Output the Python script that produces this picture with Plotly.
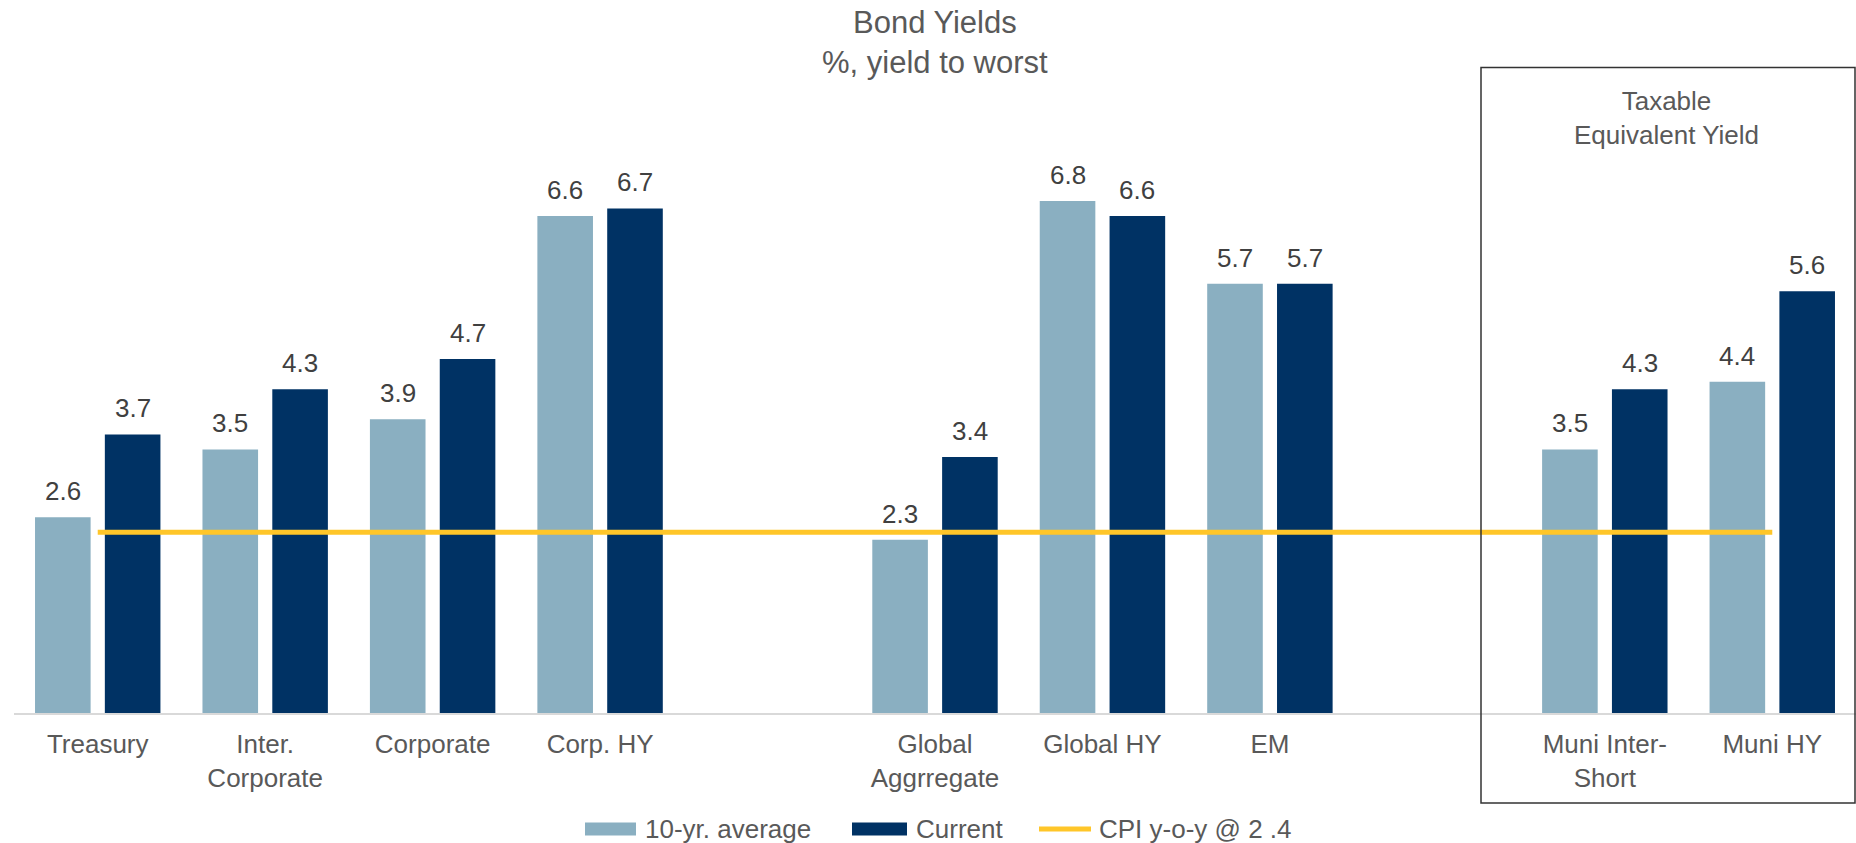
import plotly.graph_objects as go

# ---- data -------------------------------------------------------------
categories = ["Treasury", "Inter.<br>Corporate", "Corporate", "Corp. HY",
              "Global<br>Aggrregate", "Global HY", "EM",
              "Muni Inter-<br>Short", "Muni HY"]
cluster_sizes = [4, 3, 2]          # categories per cluster, one empty slot between clusters
avg_10yr = [2.6, 3.5, 3.9, 6.6, 2.3, 6.8, 5.7, 3.5, 4.4]
current = [3.7, 4.3, 4.7, 6.7, 3.4, 6.6, 5.7, 4.3, 5.6]
cpi_yoy = 2.4
series_names = ["10-yr. average", "Current", "CPI y-o-y @ 2 .4"]

# ---- styling ----------------------------------------------------------
LIGHT = "#8AAFC1"
DARK = "#003264"
GOLD = "#FFC629"
TEXT = "#595959"
LABEL = "#404040"
FONT = "Arial, Liberation Sans, sans-serif"

W, H = 1856, 843
M_L, M_R, M_T, M_B = 14, 0, 60, 130
PLOT_W = W - M_L - M_R
PLOT_H = H - M_T - M_B
PX_PER_UNIT = 75.3

# bar geometry in category-slot units
BAR_W = 0.332
BAR_SPACING = 0.085
OFFSETS = [-(BAR_W + BAR_SPACING / 2), BAR_SPACING / 2]


def px_x(p):
    return (p - M_L) / PLOT_W


def px_y(p):
    return (H - M_B - p) / PLOT_H


# slot positions: clusters separated by one blank slot
positions = []
slot = 0
for n in cluster_sizes:
    for _ in range(n):
        positions.append(slot)
        slot += 1
    slot += 1

fig = go.Figure()
annotations = []
for name, vals, color, off in [(series_names[0], avg_10yr, LIGHT, OFFSETS[0]),
                               (series_names[1], current, DARK, OFFSETS[1])]:
    fig.add_trace(go.Bar(
        x=positions, y=vals, name=name, marker_color=color,
        marker_line_width=0, width=BAR_W, offset=off,
        showlegend=False,
    ))
    # value labels above each bar
    for p, v in zip(positions, vals):
        annotations.append(dict(
            text=f"{v:.1f}", x=p + off + BAR_W / 2, y=v, xref="x", yref="y",
            showarrow=False, xanchor="center", yanchor="bottom", yshift=9,
            font=dict(family=FONT, size=26, color=LABEL)))

line_x = list(range(positions[0], positions[-1] + 1))
fig.add_trace(go.Scatter(
    x=line_x, y=[cpi_yoy] * len(line_x), mode="lines", name=series_names[2],
    line=dict(color=GOLD, width=5), showlegend=False,
))

annotations += [
    dict(text="Bond Yields<br>%, yield to worst", x=0.5, y=px_y(43),
         xref="paper", yref="paper", showarrow=False,
         xanchor="center", yanchor="middle",
         font=dict(family=FONT, size=31, color=TEXT)),
    dict(text="Taxable<br>Equivalent Yield", x=px_x(1666), y=px_y(118),
         xref="paper", yref="paper", showarrow=False,
         xanchor="center", yanchor="middle",
         font=dict(family=FONT, size=26, color=TEXT)),
]

shapes = [
    # frame around the municipal group
    dict(type="rect", xref="paper", yref="paper",
         x0=px_x(1481), x1=px_x(1855), y0=px_y(803), y1=px_y(67.5),
         line=dict(color="#333333", width=1.5), fillcolor="rgba(0,0,0,0)"),
]

# legend row along the bottom
legend_y = 829
swatches = [(585, 636, LIGHT, series_names[0]),
            (852, 907, DARK, series_names[1])]
for x0, x1, color, name in swatches:
    shapes.append(dict(type="rect", xref="paper", yref="paper",
                       x0=px_x(x0), x1=px_x(x1),
                       y0=px_y(legend_y + 6.5), y1=px_y(legend_y - 6.5),
                       fillcolor=color, line_width=0))
    annotations.append(dict(text=name, x=px_x(x1 + 7), y=px_y(legend_y),
                            xref="paper", yref="paper", showarrow=False,
                            xanchor="left", yanchor="middle",
                            font=dict(family=FONT, size=26, color=TEXT)))
shapes.append(dict(type="line", xref="paper", yref="paper",
                   x0=px_x(1039), x1=px_x(1091), y0=px_y(legend_y), y1=px_y(legend_y),
                   line=dict(color=GOLD, width=5)))
annotations.append(dict(text=series_names[2], x=px_x(1097), y=px_y(legend_y),
                        xref="paper", yref="paper", showarrow=False,
                        xanchor="left", yanchor="middle",
                        font=dict(family=FONT, size=26, color=TEXT)))

fig.update_layout(
    width=W, height=H,
    margin=dict(l=M_L, r=M_R, t=M_T, b=M_B),
    plot_bgcolor="white", paper_bgcolor="white",
    barmode="overlay",
    showlegend=False,
    annotations=annotations, shapes=shapes,
    xaxis=dict(
        tickvals=positions, ticktext=categories,
        range=[-0.5, 10.5], showgrid=False, zeroline=False,
        showline=True, linecolor="#D9D9D9", linewidth=2, ticks="",
        ticklabelstandoff=7,
        tickfont=dict(family=FONT, size=26, color=TEXT),
        fixedrange=True,
    ),
    yaxis=dict(range=[0, PLOT_H / PX_PER_UNIT], visible=False, fixedrange=True),
)

fig.write_html("out.html")
